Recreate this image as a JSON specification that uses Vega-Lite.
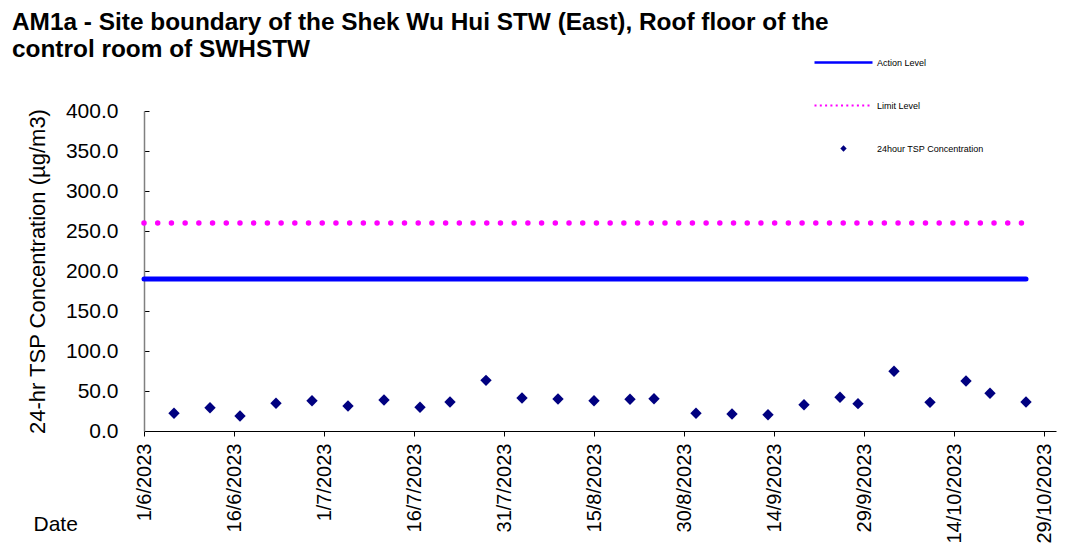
{
  "$schema": "https://vega.github.io/schema/vega-lite/v6.json",
  "autosize": "none",
  "width": 912,
  "height": 320,
  "padding": {"left": 144, "top": 111, "right": 20, "bottom": 124},
  "background": "white",
  "config": {
    "font": "Liberation Sans",
    "view": {"stroke": null},
    "axis": {"grid": false, "labelColor": "black", "titleColor": "black", "labelFont": "Liberation Sans", "titleFont": "Liberation Sans"}
  },
  "title": {
    "text": ["AM1a - Site boundary of the Shek Wu Hui STW (East), Roof floor of the", "control room of SWHSTW"],
    "anchor": "start",
    "frame": "group",
    "dx": -132,
    "offset": 0,
    "dy": 4,
    "fontSize": 24.4,
    "fontWeight": "bold",
    "lineHeight": 27,
    "color": "black",
    "font": "Liberation Sans"
  },
  "datasets": {
    "action": [
      {"date": "2023-06-01", "value": 190, "series": "Action Level"},
      {"date": "2023-10-26", "value": 190, "series": "Action Level"}
    ],
    "limit": [
      {"date": "2023-06-01", "value": 260, "series": "Limit Level"},
      {"date": "2023-10-26", "value": 260, "series": "Limit Level"}
    ],
    "tsp": [
      {"date": "2023-06-06", "value": 22.1, "series": "24hour TSP Concentration"},
      {"date": "2023-06-12", "value": 29.1, "series": "24hour TSP Concentration"},
      {"date": "2023-06-17", "value": 18.8, "series": "24hour TSP Concentration"},
      {"date": "2023-06-23", "value": 34.6, "series": "24hour TSP Concentration"},
      {"date": "2023-06-29", "value": 37.9, "series": "24hour TSP Concentration"},
      {"date": "2023-07-05", "value": 31.3, "series": "24hour TSP Concentration"},
      {"date": "2023-07-11", "value": 38.8, "series": "24hour TSP Concentration"},
      {"date": "2023-07-17", "value": 29.6, "series": "24hour TSP Concentration"},
      {"date": "2023-07-22", "value": 36.3, "series": "24hour TSP Concentration"},
      {"date": "2023-07-28", "value": 63.3, "series": "24hour TSP Concentration"},
      {"date": "2023-08-03", "value": 41.2, "series": "24hour TSP Concentration"},
      {"date": "2023-08-09", "value": 40.0, "series": "24hour TSP Concentration"},
      {"date": "2023-08-15", "value": 37.9, "series": "24hour TSP Concentration"},
      {"date": "2023-08-21", "value": 39.6, "series": "24hour TSP Concentration"},
      {"date": "2023-08-25", "value": 40.4, "series": "24hour TSP Concentration"},
      {"date": "2023-09-01", "value": 22.1, "series": "24hour TSP Concentration"},
      {"date": "2023-09-07", "value": 21.3, "series": "24hour TSP Concentration"},
      {"date": "2023-09-13", "value": 20.4, "series": "24hour TSP Concentration"},
      {"date": "2023-09-19", "value": 32.9, "series": "24hour TSP Concentration"},
      {"date": "2023-09-25", "value": 42.1, "series": "24hour TSP Concentration"},
      {"date": "2023-09-28", "value": 34.2, "series": "24hour TSP Concentration"},
      {"date": "2023-10-04", "value": 74.6, "series": "24hour TSP Concentration"},
      {"date": "2023-10-10", "value": 35.8, "series": "24hour TSP Concentration"},
      {"date": "2023-10-16", "value": 62.5, "series": "24hour TSP Concentration"},
      {"date": "2023-10-20", "value": 47.1, "series": "24hour TSP Concentration"},
      {"date": "2023-10-26", "value": 36.3, "series": "24hour TSP Concentration"}
    ]
  },
  "encoding": {
    "x": {
      "field": "date",
      "type": "temporal",
      "scale": {"type": "utc", "domain": [1685577600000, 1698710400000]},
      "axis": {
        "values": [1685577600000, 1686873600000, 1688169600000, 1689465600000, 1690761600000, 1692057600000, 1693353600000, 1694649600000, 1695945600000, 1697241600000, 1698537600000],
        "labelExpr": "utcFormat(datum.value, '%-d/%-m/%Y')",
        "labelAngle": 270,
        "labelAlign": "right",
        "labelBaseline": "middle",
        "labelFontSize": 20,
        "labelPadding": 7,
        "labelOverlap": false,
        "labelFlush": false,
        "tickSize": 5,
        "tickColor": "black",
        "domainColor": "black",
        "title": "Date",
        "titleFontSize": 21,
        "titleFontWeight": "normal",
        "titleAnchor": "start",
        "titleAlign": "left",
        "titleBaseline": "alphabetic",
        "titleX": -111,
        "titleY": 99
      }
    },
    "y": {
      "field": "value",
      "type": "quantitative",
      "scale": {"domain": [0, 400], "nice": false, "zero": true},
      "axis": {
        "values": [0, 50, 100, 150, 200, 250, 300, 350, 400],
        "format": ".1f",
        "labelFontSize": 21,
        "labelPadding": 31,
        "tickSize": -5,
        "tickColor": "black",
        "domainColor": "#808080",
        "domainWidth": 1.5,
        "title": "24-hr TSP Concentration  (µg/m3)",
        "titleFontSize": 22,
        "titleFontWeight": "normal",
        "titlePadding": 16
      }
    },
    "color": {
      "field": "series",
      "type": "nominal",
      "scale": {
        "domain": ["Action Level", "Limit Level", "24hour TSP Concentration"],
        "range": ["#0000FF", "#FF00FF", "#000080"]
      },
      "legend": {
        "orient": "none",
        "legendX": 695,
        "legendY": -53,
        "title": null,
        "labelFontSize": 9,
        "labelFont": "Liberation Sans",
        "labelColor": "#000000",
        "labelOffset": 29,
        "rowPadding": 33,
        "symbolType": "stroke",
        "symbolSize": 3364,
        "encode": {
          "symbols": {
            "update": {
              "shape": {"signal": "datum.value === '24hour TSP Concentration' ? 'diamond' : 'stroke'"},
              "size": {"signal": "datum.value === '24hour TSP Concentration' ? 40 : 3364"},
              "strokeWidth": {"signal": "datum.value === '24hour TSP Concentration' ? 0 : (datum.value === 'Limit Level' ? 2 : 2.5)"},
              "strokeDash": {"signal": "datum.value === 'Limit Level' ? [2, 3.3] : [1, 0]"},
              "fill": {"signal": "datum.value === '24hour TSP Concentration' ? '#000080' : 'transparent'"},
              "stroke": {"signal": "datum.value === 'Action Level' ? '#0000FF' : '#FF00FF'"},
              "opacity": {"value": 1}
            }
          }
        }
      }
    }
  },
  "layer": [
    {
      "data": {"name": "action"},
      "mark": {"type": "line", "strokeWidth": 5, "strokeCap": "round"}
    },
    {
      "data": {"name": "limit"},
      "mark": {"type": "line", "strokeWidth": 5.5, "strokeCap": "round", "strokeDash": [0.01, 13.7]}
    },
    {
      "data": {"name": "tsp"},
      "mark": {"type": "point", "shape": "diamond", "filled": true, "size": 130, "opacity": 1}
    }
  ]
}
